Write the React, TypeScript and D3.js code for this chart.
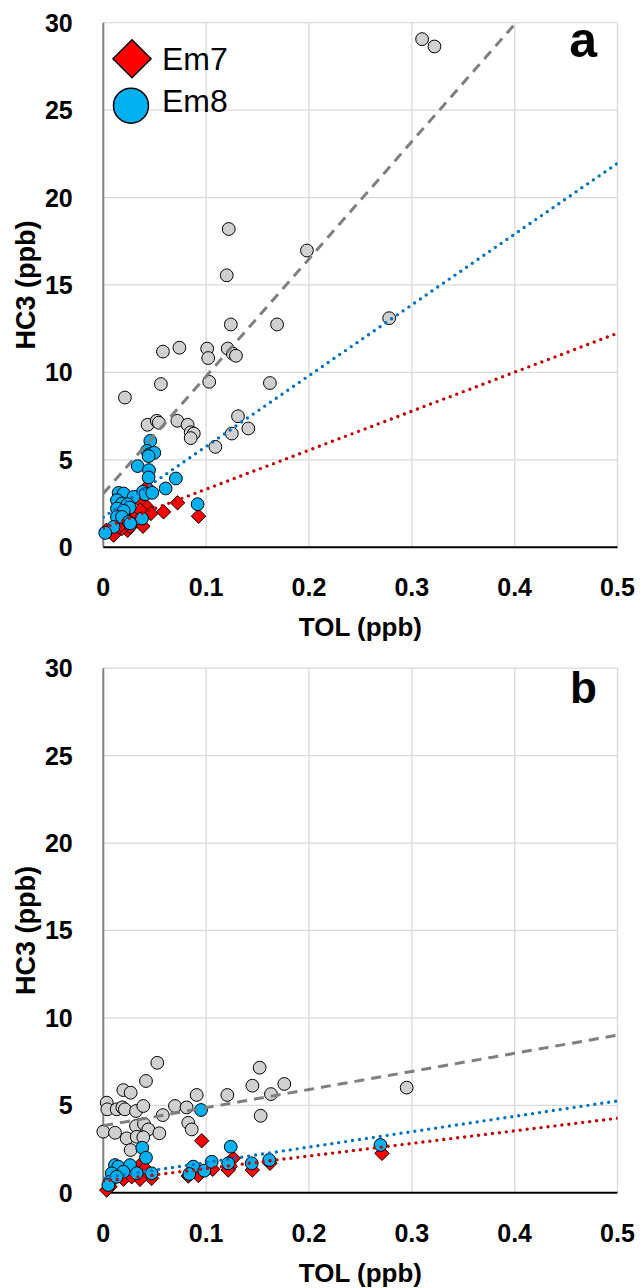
import React from "react";
import * as d3 from "d3";

type Pt = [number, number];

// ---------- Panel a data ----------
const grayA: Pt[] = [
  [0.310, 29.06], [0.322, 28.64], [0.122, 18.2], [0.198, 16.97], [0.120, 15.55],
  [0.124, 12.74], [0.169, 12.74], [0.278, 13.1], [0.058, 11.19], [0.074, 11.41],
  [0.101, 11.36], [0.102, 10.82], [0.121, 11.36], [0.126, 11.06], [0.129, 10.95],
  [0.056, 9.33], [0.103, 9.46], [0.162, 9.39], [0.021, 8.56], [0.043, 7.0],
  [0.052, 7.23], [0.054, 7.12], [0.072, 7.23], [0.082, 7.0], [0.085, 6.57],
  [0.088, 6.5], [0.085, 6.24], [0.131, 7.49], [0.141, 6.79], [0.125, 6.5],
  [0.109, 5.74],
];
const em7A: Pt[] = [
  [0.0425, 3.45], [0.0425, 2.31], [0.0463, 1.93], [0.0586, 2.02], [0.0722, 2.54],
  [0.0926, 1.77], [0.0386, 1.2], [0.0295, 1.73], [0.0236, 0.97], [0.0182, 1.07],
  [0.010, 0.69], [0.0198, 1.45], [0.0353, 2.69], [0.031, 1.93], [0.036, 2.12],
  [0.0262, 1.16], [0.003, 0.97], [0.0149, 1.16],
];
const em8A: Pt[] = [
  [0.0457, 6.08], [0.0425, 5.51], [0.045, 5.32], [0.0496, 5.40], [0.044, 5.21],
  [0.0334, 4.64], [0.0444, 4.41], [0.044, 3.99], [0.0706, 3.93], [0.0606, 3.36],
  [0.0149, 3.11], [0.0198, 3.07], [0.0385, 3.17], [0.0408, 3.03], [0.0476, 3.11],
  [0.0295, 2.88], [0.0133, 2.69], [0.0182, 2.5], [0.0236, 2.46], [0.0256, 2.27],
  [0.0133, 2.21], [0.0198, 2.08], [0.0133, 1.73], [0.0182, 1.73], [0.0246, 1.45],
  [0.0376, 1.64], [0.0917, 2.46], [0.010, 1.16], [0.0019, 0.82], [0.0262, 1.36],
];
// trendlines [intercept, slope]
const trendA = { gray: [3.07, 67.1], em8: [1.71, 40.5], em7: [1.09, 22.3] };

// ---------- Panel b data ----------
const grayB: Pt[] = [
  [0.0525, 7.43], [0.0415, 6.39], [0.0195, 5.87], [0.0266, 5.72], [0.0908, 5.59],
  [0.1206, 5.59], [0.152, 7.15], [0.145, 6.12], [0.176, 6.22], [0.163, 5.64],
  [0.153, 4.40], [0.0033, 5.15], [0.0039, 4.77], [0.013, 4.77], [0.0185, 4.88],
  [0.021, 4.77], [0.0318, 4.67], [0.0389, 4.96], [0.0697, 4.96], [0.081, 4.88],
  [0.0578, 4.44], [0.0, 3.49], [0.0114, 3.43], [0.0826, 4.0], [0.086, 3.62],
  [0.0318, 3.81], [0.0396, 3.93], [0.0438, 3.62], [0.0545, 3.40], [0.0227, 3.11],
  [0.0325, 3.2], [0.0389, 3.17], [0.0266, 2.44], [0.295, 6.01],
];
const em7B: Pt[] = [
  [0.0957, 2.97], [0.271, 2.25], [0.0373, 1.68], [0.0405, 1.4], [0.047, 0.82],
  [0.0357, 0.77], [0.0826, 0.95], [0.0924, 0.99], [0.1064, 1.34], [0.1232, 1.49],
  [0.1264, 1.97], [0.1215, 1.30], [0.1449, 1.30], [0.1621, 1.68], [0.0195, 0.77],
  [0.0065, 0.34], [0.0033, 0.15], [0.0276, 0.91],
];
const em8B: Pt[] = [
  [0.095, 4.73], [0.1239, 2.63], [0.0379, 2.57], [0.0415, 2.0], [0.0114, 1.58],
  [0.0146, 1.49], [0.026, 1.58], [0.0195, 1.2], [0.0082, 1.11], [0.0325, 1.11],
  [0.047, 1.11], [0.0065, 0.63], [0.0049, 0.44], [0.0875, 1.49], [0.0836, 1.07],
  [0.0982, 1.26], [0.1054, 1.77], [0.1215, 1.68], [0.1443, 1.68], [0.1614, 1.87],
  [0.2695, 2.73], [0.013, 0.91],
];
const trendB = { gray: [3.83, 10.36], em8: [0.85, 8.8], em7: [0.66, 7.2] };

const xTicks = [0, 0.1, 0.2, 0.3, 0.4, 0.5];
const xTickLabels = ["0", "0.1", "0.2", "0.3", "0.4", "0.5"];
const yTicks = [0, 5, 10, 15, 20, 25, 30];
const legendLabels = ["Em7", "Em8"];

const FONT = "'Liberation Sans', Arial, sans-serif";
const C = {
  gray: "#d0d0d0",
  blue: "#00b0f0",
  red: "#ff0000",
  grayLine: "#7f7f7f",
  blueLine: "#0070c0",
  redLine: "#c00000",
  grid: "#d9d9d9",
};

interface PanelProps {
  top: number;
  label: string;
  labelSize: number;
  gray: Pt[];
  em7: Pt[];
  em8: Pt[];
  trend: { gray: number[]; em8: number[]; em7: number[] };
  legend: boolean;
}

const L = 103.3;
const R = 617.5;
const H = 524.5;

function Panel({ top, label, labelSize, gray, em7, em8, trend, legend }: PanelProps) {
  const x = d3.scaleLinear().domain([0, 0.5]).range([L, R]);
  const y = d3.scaleLinear().domain([0, 30]).range([top + H, top]);
  const clipId = "clip" + label;
  const trendPath = (t: number[]) => {
    const pts: Pt[] = d3.range(0, 101).map((i) => {
      const xv = (i / 100) * 0.5;
      return [xv, t[0] + t[1] * xv];
    });
    return d3
      .line<Pt>()
      .x((d) => x(d[0]))
      .y((d) => y(d[1]))(pts) as string;
  };
  const diamond = (cx: number, cy: number, r: number) =>
    `M${cx},${cy - r}L${cx + r},${cy}L${cx},${cy + r}L${cx - r},${cy}Z`;
  const midY = (y(0) + y(30)) / 2;
  return (
    <g>
      <defs>
        <clipPath id={clipId}>
          <rect x={L} y={top} width={R - L} height={H} />
        </clipPath>
      </defs>
      {/* grid */}
      {xTicks.slice(1).map((t) => (
        <line key={"gx" + t} x1={x(t)} x2={x(t)} y1={y(0)} y2={y(30)} stroke={C.grid} strokeWidth={1.3} />
      ))}
      {yTicks.slice(1).map((t) => (
        <line key={"gy" + t} x1={L} x2={R} y1={y(t)} y2={y(t)} stroke={C.grid} strokeWidth={1.3} />
      ))}
      {/* axes */}
      <line x1={L} x2={L} y1={y(0)} y2={y(30)} stroke="#808080" strokeWidth={2} />
      <line x1={L} x2={R} y1={y(0)} y2={y(0)} stroke="#000" strokeWidth={2} />
      {/* tick labels */}
      {yTicks.map((t) => (
        <text key={"ty" + t} x={72.7} y={y(t) + 9} textAnchor="end" fontFamily={FONT} fontWeight="bold" fontSize={25} fill="#000">
          {t}
        </text>
      ))}
      {xTicks.map((t, i) => (
        <text key={"tx" + t} x={x(t)} y={y(0) + 49} textAnchor="middle" fontFamily={FONT} fontWeight="bold" fontSize={25} fill="#000">
          {xTickLabels[i]}
        </text>
      ))}
      {/* axis titles */}
      <text x={(L + R) / 2} y={y(0) + 89} textAnchor="middle" fontFamily={FONT} fontWeight="bold" fontSize={26} fill="#000">
        TOL (ppb)
      </text>
      <text
        transform={`translate(35,${midY}) rotate(-90)`}
        textAnchor="middle"
        fontFamily={FONT}
        fontWeight="bold"
        fontSize={27}
        fill="#000"
      >
        HC3 (ppb)
      </text>
      {/* points */}
      <g>
        {gray.map((d, i) => (
          <circle key={"g" + i} cx={x(d[0])} cy={y(d[1])} r={6.4} fill={C.gray} stroke="#000" strokeWidth={1} />
        ))}
        {em7.map((d, i) => (
          <path key={"r" + i} d={diamond(x(d[0]), y(d[1]), 7.2)} fill={C.red} stroke="#000" strokeWidth={1} />
        ))}
        {em8.map((d, i) => (
          <circle key={"b" + i} cx={x(d[0])} cy={y(d[1])} r={6.4} fill={C.blue} stroke="#000" strokeWidth={1} />
        ))}
      </g>
      {/* trendlines */}
      <g clipPath={`url(#${clipId})`} fill="none">
        <path d={trendPath(trend.gray)} stroke={C.grayLine} strokeWidth={3} strokeDasharray="10 7" />
        <path d={trendPath(trend.em8)} stroke={C.blueLine} strokeWidth={3.4} strokeDasharray="0 7" strokeLinecap="round" />
        <path d={trendPath(trend.em7)} stroke={C.redLine} strokeWidth={3.4} strokeDasharray="0 7" strokeLinecap="round" />
      </g>
      {/* panel label */}
      <text x={597} y={label === "a" ? top + 34 : top + 35} textAnchor="end" fontFamily={FONT} fontWeight="bold" fontSize={labelSize} fill="#000">
        {label}
      </text>
      {legend && (
        <g>
          <path d={diamond(132, top + 36, 19)} fill={C.red} stroke="#000" strokeWidth={1.5} />
          <circle cx={131} cy={top + 83} r={17.5} fill={C.blue} stroke="#000" strokeWidth={1.5} />
          <text x={162} y={top + 47} fontFamily={FONT} fontSize={32} fill="#000">
            {legendLabels[0]}
          </text>
          <text x={162} y={top + 89} fontFamily={FONT} fontSize={32} fill="#000">
            {legendLabels[1]}
          </text>
        </g>
      )}
    </g>
  );
}

export default function App() {
  return (
    <svg
      width={640}
      height={1288}
      style={{ position: "absolute", left: 0, top: 0, background: "#fff" }}
    >
      <rect x={0} y={0} width={640} height={1288} fill="#fff" />
      <Panel top={22.7} label="a" labelSize={50} gray={grayA} em7={em7A} em8={em8A} trend={trendA} legend={true} />
      <Panel top={668.2} label="b" labelSize={44} gray={grayB} em7={em7B} em8={em8B} trend={trendB} legend={false} />
    </svg>
  );
}
